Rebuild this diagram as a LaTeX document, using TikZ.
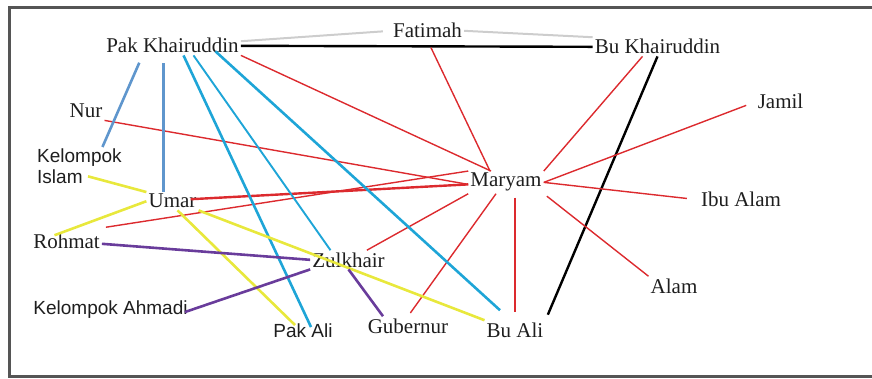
\documentclass[tikz,border=0pt]{standalone}
\usepackage{fontspec}
\setmainfont{Liberation Serif}
\setsansfont{Liberation Sans}
\definecolor{txt}{RGB}{30,30,30}
\definecolor{redl}{RGB}{220,42,46}
\definecolor{grayl}{RGB}{205,205,205}
\definecolor{steel}{RGB}{95,150,205}
\definecolor{cyanl}{RGB}{30,165,215}
\definecolor{yell}{RGB}{232,232,60}
\definecolor{purp}{RGB}{105,60,155}
\definecolor{frame}{RGB}{85,85,85}

\begin{document}
\begin{tikzpicture}[x=1pt, y=-1pt,
    every node/.style={inner sep=2pt, text=txt},
    ser/.style={anchor=base, font=\fontsize{21}{24}\selectfont},
    san/.style={anchor=base, font=\sffamily\fontsize{19}{21}\selectfont},
    redline/.style={draw=redl, line width=1.4pt},
    thickred/.style={draw=redl, line width=2.4pt},
    grayline/.style={draw=grayl, line width=2pt},
    blackline/.style={draw=black, line width=2.4pt},
    blueline/.style={draw=steel, line width=2.6pt},
    cyanline/.style={draw=cyanl, line width=2.6pt},
    cyanthin/.style={draw=cyanl, line width=1.9pt},
    yellowline/.style={draw=yell, line width=2.6pt},
    purpleline/.style={draw=purp, line width=2.6pt}]
    \useasboundingbox (0,0) rectangle (872,379);
    \draw[frame, line width=2.5pt] (880,7.5) -- (9.5,7.5) -- (9.5,376.5) -- (880,376.5);

    \node[ser] (pk) at (172.5,53) {Pak Khairuddin};
    \node[ser] (fat) at (427.5,38) {Fatimah};
    \node[ser] (buk) at (657.5,54) {Bu Khairuddin};
    \node[ser] (jam) at (780.5,109) {Jamil};
    \node[ser] (nur) at (86,118) {Nur};
    \node[san, anchor=north west, align=left] (keli) at (35,147) {Kelompok\\Islam};
    \node[ser] (mar) at (506,187) {Maryam};
    \node[ser] (umar) at (172.5,208) {Umar};
    \node[ser] (ibu) at (741,207) {Ibu Alam};
    \node[ser] (roh) at (66.5,248) {Rohmat};
    \node[ser] (zul) at (348.5,267) {Zulkhair};
    \node[ser] (alam) at (674,293) {Alam};
    \node[san] (kah) at (110.5,314) {Kelompok Ahmadi};
    \node[san] (pali) at (303,337) {Pak Ali};
    \node[ser] (gub) at (408,333) {Gubernur};
    \node[ser] (buali) at (515,337) {Bu Ali};

    \draw[grayline, shorten >=8pt] ([yshift=-5]pk.north east) -- (fat.west);
    \draw[grayline] (fat.east) -- (buk.north west);
    \draw[blackline] (pk.east) -- (buk.west);
    \draw[blackline, shorten >=6pt] (buk.south) -- (buali.north east);

    \draw[redline] (pk.south east) -- ([xshift=-15]mar.north);
    \draw[redline, shorten <=8pt] (fat.south) -- ([xshift=-16]mar.north);
    \draw[redline] ([xshift=-15]buk.south) -- (mar.north east);
    \draw[redline, shorten <=10pt] (jam.west) -- (mar.east);
    \draw[redline] (nur.south east) -- ([yshift=-2]mar.west);
    \draw[thickred] ([xshift=-8,yshift=2]umar.east) -- ([yshift=-2]mar.west);
    \draw[redline] ([xshift=4,yshift=4]roh.north east) -- (mar.north west);
    \draw[redline] (mar.south west) -- ([xshift=-20]zul.north east);
    \draw[redline, shorten >=4pt] ([xshift=-10]mar.south) -- (gub.north);
    \draw[thickred, shorten <=4pt, shorten >=8pt] (buali.north |- mar.south) -- (buali.north);
    \draw[redline, shorten <=4pt] (mar.south east) -- (alam.north west);
    \draw[redline, shorten >=12pt] (mar.east) -- (ibu.west);

    \draw[blueline, shorten <=8pt] ([xshift=-30]pk.south) -- ([xshift=23]keli.north);
    \draw[blueline, shorten <=8pt] ([xshift=-9]pk.south) -- ([xshift=-9]umar.north);
    \draw[cyanline] ([xshift=11]pk.south) -- ([xshift=8,yshift=-6]pali.north);
    \draw[cyanthin] ([xshift=21]pk.south) -- ([xshift=-18]zul.north);
    \draw[cyanline] ([xshift=43,yshift=4]pk.south) -- ([xshift=-15,yshift=10]buali.north);

    \draw[yellowline] ([xshift=53,yshift=10]keli.south west) -- (umar.north west);
    \draw[yellowline] (umar.west) -- ([xshift=-12,yshift=-4]roh.north);
    \draw[yellowline] ([xshift=5]umar.south) -- ([xshift=-8,yshift=-4]pali.north);
    \draw[yellowline] (umar.south east) -- (buali.north west);

    \draw[purpleline] ([yshift=-3]roh.east) -- (zul.west);
    \draw[purpleline] ([xshift=-5,yshift=-3]kah.east) -- (zul.south west);
    \draw[purpleline] (zul.south) -- ([xshift=-25]gub.north);
\end{tikzpicture}
\end{document}
